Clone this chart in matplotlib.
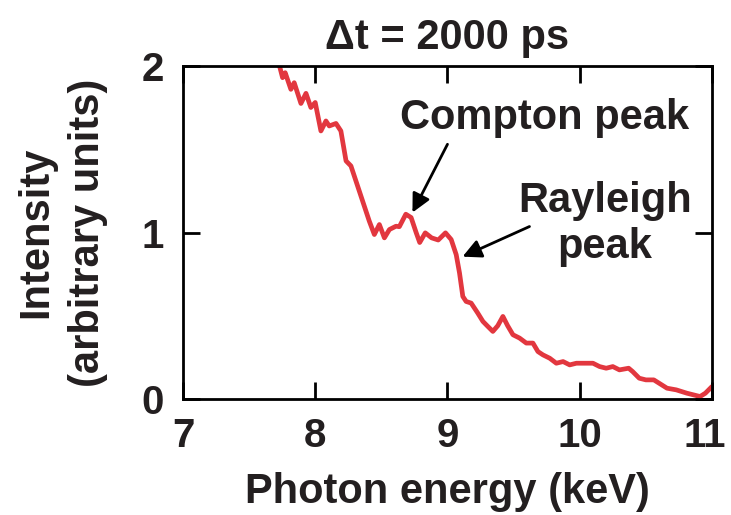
import matplotlib.pyplot as plt
from matplotlib.transforms import ScaledTranslation

plt.rcParams['font.family'] = ['Liberation Sans', 'DejaVu Sans']
plt.rcParams['font.weight'] = 'bold'

# Spectrum
energy = [7.727, 7.753, 7.773, 7.816, 7.841, 7.892, 7.930, 7.967, 8.000, 8.043,
          8.081, 8.106, 8.157, 8.194, 8.233, 8.270, 8.409, 8.447, 8.485, 8.523,
          8.561, 8.611, 8.636, 8.685, 8.725, 8.763, 8.790, 8.832, 8.880, 8.930,
          8.985, 9.028, 9.066, 9.091, 9.116, 9.141, 9.179, 9.229, 9.268, 9.305,
          9.343, 9.380, 9.419, 9.455, 9.495, 9.545, 9.596, 9.646, 9.684, 9.722,
          9.773, 9.823, 9.874, 9.924, 9.975, 10.05, 10.10, 10.15, 10.20, 10.25,
          10.30, 10.37, 10.40, 10.45, 10.50, 10.56, 10.62, 10.66, 10.73, 10.81,
          10.86, 10.91, 10.95, 11.0]
intensity = [2.01, 1.93, 1.96, 1.86, 1.90, 1.775, 1.836, 1.751, 1.781, 1.61,
             1.67, 1.64, 1.655, 1.61, 1.43, 1.40, 1.068, 0.988, 1.048, 0.968,
             1.018, 1.038, 1.035, 1.11, 1.09, 1.00, 0.94, 0.998, 0.968, 0.955,
             0.998, 0.958, 0.867, 0.757, 0.616, 0.586, 0.576, 0.516, 0.466, 0.436,
             0.406, 0.44, 0.496, 0.44, 0.386, 0.366, 0.336, 0.336, 0.285, 0.265,
             0.245, 0.215, 0.225, 0.205, 0.215, 0.215, 0.215, 0.195, 0.185, 0.195,
             0.175, 0.185, 0.165, 0.125, 0.115, 0.115, 0.085, 0.065, 0.055, 0.035,
             0.025, 0.015, 0.035, 0.075]

x_ticks = [7, 8, 9, 10, 11]
y_ticks = [0, 1, 2]

fs = 30
ink = '#231f20'

fig = plt.figure(figsize=(7.31, 5.15), dpi=100)
ax = fig.add_axes([0.2503, 0.2252, 0.7237, 0.6466])

ax.plot(energy, intensity, color='#e2373f', lw=3.4, solid_joinstyle='round',
        solid_capstyle='round')

ax.set_xlim(7, 11)
ax.set_ylim(0, 2)
ax.set_xticks(x_ticks)
ax.set_yticks(y_ticks)
ax.tick_params(direction='in', length=12, width=2, labelsize=29, pad=13,
               top=True, right=True, labelcolor=ink)
ax.tick_params(axis='y', pad=14)
for s in ax.spines.values():
    s.set_linewidth(2)

# last x label sits a touch left, as in the original
last = ax.get_xticklabels()[-1]
last.set_transform(last.get_transform() + ScaledTranslation(-5 / 72, 0, fig.dpi_scale_trans))

ax.set_xlabel('Photon energy (keV)', fontsize=fs, fontweight='bold', labelpad=12,
              color=ink)
ax.set_ylabel('Intensity\n(arbitrary units)', fontsize=fs, fontweight='bold',
              labelpad=24, linespacing=1.36, color=ink)
ax.set_title('Δt = 2000 ps', fontsize=fs, fontweight='bold', pad=12, color=ink)

arrow = dict(arrowstyle='-|>', lw=2, mutation_scale=28, color='black',
             shrinkA=0, shrinkB=0)
ax.annotate('', xy=(8.735, 1.12), xytext=(9.0, 1.53), arrowprops=arrow)
ax.annotate('', xy=(9.114, 0.855), xytext=(9.62, 1.036), arrowprops=arrow)
ax.text(9.735, 1.69, 'Compton peak', fontsize=fs, fontweight='bold',
        ha='center', va='center', color=ink)
ax.text(10.19, 1.05, 'Rayleigh\npeak', fontsize=fs, fontweight='bold',
        ha='center', va='center', linespacing=1.2, color=ink)

fig.savefig('out.png', dpi=100)
